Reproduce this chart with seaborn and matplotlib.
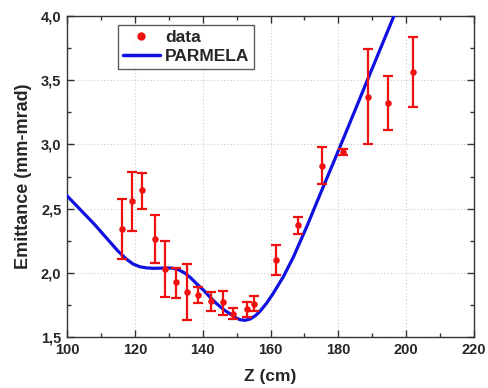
import matplotlib
matplotlib.use("Agg")
import matplotlib.pyplot as plt
import seaborn as sns
import numpy as np
import pandas as pd
from matplotlib.ticker import MultipleLocator, FuncFormatter
from matplotlib.lines import Line2D

# Measured data
z_data = [116.3, 119.2, 122.1, 125.9, 129.0, 132.1, 135.4, 138.5, 142.4, 146.1,
          148.9, 153.2, 155.1, 161.7, 168.1, 175.1, 181.5, 188.6, 194.5, 202.0]
emit_data = [2.34, 2.56, 2.645, 2.26, 2.03, 1.93, 1.85, 1.83, 1.78, 1.77,
             1.68, 1.72, 1.76, 2.10, 2.37, 2.83, 2.94, 3.37, 3.325, 3.565]
err_low = [2.107, 2.328, 2.497, 2.074, 1.814, 1.806, 1.63, 1.762, 1.702, 1.674,
           1.638, 1.658, 1.705, 1.983, 2.302, 2.692, 2.915, 3.0, 3.112, 3.291]
err_high = [2.572, 2.787, 2.777, 2.45, 2.248, 2.035, 2.068, 1.887, 1.848, 1.858,
            1.728, 1.775, 1.819, 2.214, 2.437, 2.982, 2.964, 3.74, 3.53, 3.834]

# PARMELA simulation curve
z_sim = [100.0, 104.0, 108.0, 112.0, 115.0, 117.6, 119.5, 121.5, 123.5, 125.5, 127.5,
         129.4, 131.2, 132.8, 134.6, 136.3, 138.2, 140.2, 142.1, 144.1, 146.1,
         148.1, 149.6, 151.0, 152.5, 154.0, 155.5, 156.9, 158.9, 160.8, 163.8,
         166.7, 170.7, 174.6, 178.5, 182.5, 188.4, 196.7]
emit_sim = [2.60, 2.49, 2.38, 2.26, 2.17, 2.105, 2.068, 2.047, 2.038, 2.035, 2.036,
            2.038, 2.036, 2.025, 2.00, 1.965, 1.915, 1.866, 1.812, 1.76, 1.715,
            1.68, 1.652, 1.635, 1.630, 1.64, 1.665, 1.70, 1.765, 1.84, 1.97,
            2.12, 2.36, 2.61, 2.855, 3.11, 3.49, 4.02]

sns.set_theme(style="ticks")
plt.rcParams['font.family'] = ['Liberation Sans', 'DejaVu Sans']
plt.rcParams['font.weight'] = 'bold'

fig = plt.figure(figsize=(4.88, 3.88), dpi=100)
ax = fig.add_axes([67/488, 51/388, 407/488, 321/388])

red = "#f01010"
blue = "#1010e0"

sim_df = pd.DataFrame({"z": z_sim, "e": emit_sim})
data_df = pd.DataFrame({"z": z_data, "e": emit_data})

sns.lineplot(data=sim_df, x="z", y="e", ax=ax, color=blue, lw=2.3, sort=False, zorder=3)
ax.errorbar(z_data, emit_data,
            yerr=[np.array(emit_data) - np.array(err_low), np.array(err_high) - np.array(emit_data)],
            fmt='none', ecolor=red, elinewidth=1.6, capsize=3.5, capthick=1.6, zorder=4)
sns.scatterplot(data=data_df, x="z", y="e", ax=ax, color=red, s=22, edgecolor=red,
                linewidth=0, zorder=5)

ax.set_xlim(100, 220)
ax.set_ylim(1.5, 4.0)
ax.xaxis.set_major_locator(MultipleLocator(20))
ax.xaxis.set_minor_locator(MultipleLocator(10))
ax.yaxis.set_major_locator(MultipleLocator(0.5))
ax.yaxis.set_minor_locator(MultipleLocator(0.25))
ax.yaxis.set_major_formatter(FuncFormatter(lambda v, p: f"{v:.1f}".replace('.', ',')))
ax.xaxis.set_major_formatter(FuncFormatter(lambda v, p: f"{v:.0f}"))

ax.tick_params(which='both', direction='in', top=True, right=True, labelright=False,
               labeltop=False, color='#333333')
ax.tick_params(which='major', length=5, width=1, labelsize=10.5, pad=4)
ax.tick_params(which='minor', length=3, width=1)
for lab in ax.get_xticklabels() + ax.get_yticklabels():
    lab.set_fontweight('bold')

ax.grid(True, which='major', linestyle=(0, (1, 2)), color='#cccccc', linewidth=0.8)
for s in ax.spines.values():
    s.set_color('#333333')
    s.set_linewidth(1.0)

ax.set_xlabel("Z (cm)", fontsize=12.5, fontweight='bold', labelpad=9)
ax.set_ylabel("Emittance (mm-mrad)", fontsize=13, fontweight='bold', labelpad=6)

handles = [Line2D([], [], marker='o', color=red, linestyle='none', markersize=5),
           Line2D([], [], color=blue, lw=2.5)]
leg = ax.legend(handles, ["data", "PARMELA"], loc='upper left',
                bbox_to_anchor=(0.125, 0.972), fontsize=12.5, frameon=True, fancybox=False,
                handlelength=2.1, handletextpad=0.3, borderpad=0.3, labelspacing=0.2,
                borderaxespad=0)
leg.get_frame().set_edgecolor('#333333')
leg.get_frame().set_linewidth(1.0)
for t in leg.get_texts():
    t.set_fontweight('bold')

fig.savefig("out.png", dpi=100)
